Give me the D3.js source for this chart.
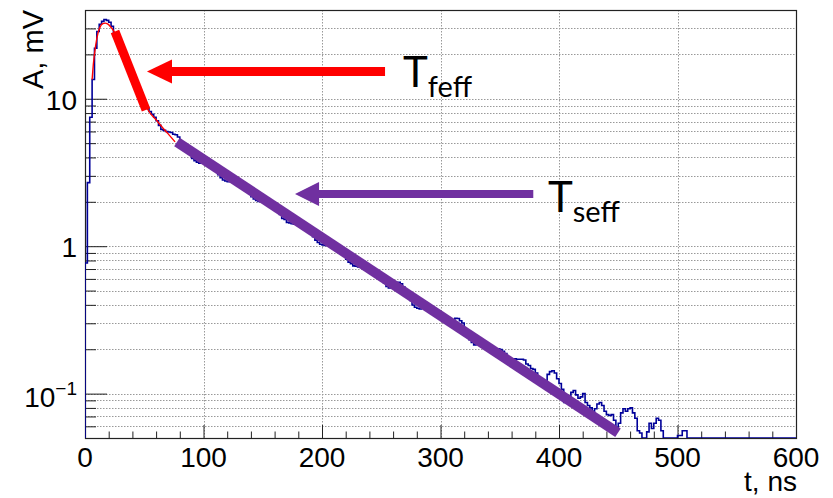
<!DOCTYPE html>
<html><head><meta charset="utf-8">
<script src="https://cdn.jsdelivr.net/npm/d3@7"></script>
<style>body{margin:0;background:#fff} svg{display:block}</style>
</head><body>
<svg id="c" width="833" height="498"></svg>
<script>
// ---------------- data ----------------
const binWidth = 2; // ns per histogram bin, bins start at t = 0
const amplitude = [
  0.77, 2.7, 7.5, 13.5, 22, 28.6, 32, 33.5, 34.5, 34,
  33, 31, 27.5, 25.1, 22.9, 20.9, 19.1, 17.4, 15.8, 14.5,
  13.2, 12.0, 11.1, 10.2, 9.5, 9.0, 8.6, 8.2, 7.85, 7.5,
  7.1, 6.6, 6.2, 6.1, 6.0, 5.95, 5.9, 5.75, 5.7, 5.5,
  5.12, 4.76, 4.66, 4.44, 4.24, 3.94, 3.80, 3.72, 3.66, 3.75,
  3.83, 3.83, 3.65, 3.56, 3.40, 3.24, 3.05, 2.91, 2.81, 2.77,
  2.74, 2.86, 2.92, 2.79, 2.72, 2.59, 2.59, 2.47, 2.36, 2.30,
  2.17, 2.09, 2.04, 2.01, 2.08, 2.08, 2.08, 1.98, 1.93, 1.85,
  1.84, 1.72, 1.64, 1.54, 1.52, 1.45, 1.44, 1.42, 1.41, 1.45,
  1.48, 1.41, 1.37, 1.31, 1.31, 1.25, 1.16, 1.10, 1.06, 1.03,
  1.02, 1.01, 1.03, 1.05, 1.05, 1.00, 0.977, 0.931, 0.931, 0.867,
  0.817, 0.780, 0.760, 0.735, 0.733, 0.723, 0.748, 0.746, 0.746, 0.711,
  0.678, 0.678, 0.661, 0.631, 0.615, 0.586, 0.560, 0.533, 0.521, 0.532,
  0.556, 0.569, 0.568, 0.555, 0.528, 0.481, 0.459, 0.428, 0.399, 0.385,
  0.379, 0.375, 0.387, 0.396, 0.386, 0.386, 0.368, 0.351, 0.351, 0.334,
  0.334, 0.326, 0.325, 0.310, 0.310, 0.316, 0.324, 0.323, 0.312, 0.301,
  0.274, 0.255, 0.232, 0.222, 0.214, 0.216, 0.226, 0.220, 0.220, 0.210,
  0.205, 0.195, 0.195, 0.200, 0.201, 0.199, 0.194, 0.187, 0.177, 0.164,
  0.168, 0.172, 0.171, 0.171, 0.171, 0.169, 0.159, 0.155, 0.148, 0.146,
  0.138, 0.129, 0.120, 0.117, 0.120, 0.135, 0.141, 0.143, 0.138, 0.126,
  0.117, 0.107, 0.087, 0.090, 0.095, 0.102, 0.105, 0.098, 0.093, 0.095,
  0.100, 0.087, 0.083, 0.080, 0.076, 0.079, 0.085, 0.087, 0.083, 0.076,
  0.072, 0.071, 0.072, 0.066, 0.059, 0.063, 0.074, 0.079, 0.076, 0.079,
  0.080, 0.074, 0.068, 0.056, 0.054, 0, 0, 0.055, 0.063, 0.058,
  0.063, 0.068, 0.066, 0.056, 0, 0, 0, 0, 0, 0,
  0.052, 0.052, 0.056, 0.056, 0, 0, 0, 0, 0, 0,
  0, 0, 0, 0, 0, 0, 0, 0, 0, 0,
  0, 0, 0, 0, 0, 0, 0, 0, 0, 0,
  0, 0, 0, 0, 0, 0, 0, 0, 0, 0,
  0, 0, 0, 0, 0, 0, 0, 0, 0, 0
];
// thin red fit function
const fitT = [6, 7, 9, 11, 13, 15, 17, 19, 21, 23, 25, 30, 35, 40, 45, 50, 55, 60, 65, 70, 76];
const fitA = [13.5, 17, 23, 28, 31, 32.3, 32.6, 32.2, 31.2, 29.8, 28.2, 22.8, 18, 14.2, 11.3, 9.3, 8.0, 7.2, 6.45, 5.8, 5.1];
// thick fitted slopes
const fastFitT = [25.3, 51.5], fastFitA = [28.6, 8.4];
const slowFitT = [77.6, 449.8], slowFitA = [5.09, 0.0543];
// annotation arrows (tail t, tip t, head base t, amplitude)
const arrowLabels = ["feff", "seff"];
const arrowTailT = [253.2, 378.3];
const arrowTipT = [52.3, 177.2];
const arrowBaseT = [73.4, 197.5];
const arrowA = [15.3, 2.26];
const labelT = [268.4, 390.7];
const labelA = [12.0, 1.71];
// axes
const xMajorTicks = [0, 100, 200, 300, 400, 500, 600];
const xMinorTicks = d3.range(0, 601, 20).filter(v => v % 100 !== 0);
const yLabelTicks = [0.1, 1, 10];
const xTitle = "t, ns", yTitle = "A, mV";

// ---------------- drawing ----------------
const svg = d3.select("#c");
const L = 85, R = 796, T = 10, B = 438;
const x = d3.scaleLinear().domain([0, 600]).range([L, R]);
const y = d3.scaleLog().domain([0.05, 40]).range([B, T]).clamp(true);
const yv = v => y(v > 0 ? v : 0.05);
const red = "#ff0000", purple = "#7030a0", blue = "#000099";
const rootFont = "'Liberation Sans', Arial, Helvetica, sans-serif";
const annFont = "Lato, 'Open Sans', sans-serif";

svg.append("defs").append("clipPath").attr("id", "clip")
  .append("rect").attr("x", L).attr("y", T).attr("width", R - L).attr("height", B - T);

// grid
const yGrid = y.ticks().filter(v => v > 0.05 && v < 40);
svg.append("g").selectAll("line").data(yGrid).join("line")
  .attr("x1", L).attr("x2", R).attr("y1", d => Math.round(y(d)) + 0.5).attr("y2", d => Math.round(y(d)) + 0.5)
  .attr("stroke", "#999").attr("stroke-width", 1).attr("stroke-dasharray", "1.5,1.5");
svg.append("g").selectAll("line").data(xMajorTicks.slice(1, -1)).join("line")
  .attr("y1", T).attr("y2", B).attr("x1", d => Math.round(x(d)) + 0.5).attr("x2", d => Math.round(x(d)) + 0.5)
  .attr("stroke", "#999").attr("stroke-width", 1).attr("stroke-dasharray", "1.5,1.5");

// axes ticks
const tickStyle = g => { g.select(".domain").remove(); g.selectAll("line").attr("stroke", "#222"); g.selectAll("text").remove(); };
svg.append("g").attr("transform", `translate(0,${B})`)
  .call(d3.axisTop(x).tickValues(xMajorTicks).tickSize(13).tickSizeOuter(0)).call(tickStyle);
svg.append("g").attr("transform", `translate(0,${B})`)
  .call(d3.axisTop(x).tickValues(xMinorTicks).tickSize(6.5).tickSizeOuter(0)).call(tickStyle);
svg.append("g").attr("transform", `translate(${L},0)`)
  .call(d3.axisRight(y).tickValues(yLabelTicks).tickSize(22).tickSizeOuter(0)).call(tickStyle);
svg.append("g").attr("transform", `translate(${L},0)`)
  .call(d3.axisRight(y).tickValues(yGrid.filter(v => !yLabelTicks.includes(v)).concat([40])).tickSize(11).tickSizeOuter(0)).call(tickStyle);

// frame
svg.append("rect").attr("x", L + 0.5).attr("y", T + 0.5).attr("width", R - L).attr("height", B - T)
  .attr("fill", "none").attr("stroke", "#222").attr("stroke-width", 1.2);

// tick labels
svg.append("g").selectAll("text").data(xMajorTicks).join("text")
  .attr("x", d => x(d)).attr("y", B + 29).attr("text-anchor", "middle")
  .attr("font-family", rootFont).attr("font-size", 28).text(d => d);
const yl = svg.append("g").selectAll("text").data(yLabelTicks).join("text")
  .attr("x", L - 8).attr("y", d => y(d) + (d < 1 ? 13 : 11)).attr("text-anchor", "end")
  .attr("font-family", rootFont).attr("font-size", 28);
yl.each(function(d) {
  const t = d3.select(this);
  if (d >= 1) t.text(d);
  else {
    t.append("tspan").text("10");
    t.append("tspan").attr("font-size", 19).attr("dy", -12).text("\u22121");
  }
});
svg.append("text").attr("x", R + 1).attr("y", 491).attr("text-anchor", "end")
  .attr("font-family", rootFont).attr("font-size", 28).text(xTitle);
svg.append("text").attr("transform", `translate(43,${T}) rotate(-90)`).attr("text-anchor", "end")
  .attr("font-family", rootFont).attr("font-size", 29).text(yTitle);

// histogram
const pts = [[0, 0]];
amplitude.forEach((v, i) => { pts.push([i * binWidth, v]); pts.push([(i + 1) * binWidth, v]); });
const plot = svg.append("g").attr("clip-path", "url(#clip)");
plot.append("path").datum(pts)
  .attr("d", d3.line().x(d => x(d[0])).y(d => yv(d[1])))
  .attr("fill", "none").attr("stroke", blue).attr("stroke-width", 1.6).attr("stroke-linejoin", "miter");

// thin fit
plot.append("path").datum(fitT.map((t, i) => [t, fitA[i]]))
  .attr("d", d3.line().x(d => x(d[0])).y(d => y(d[1])).curve(d3.curveMonotoneX))
  .attr("fill", "none").attr("stroke", red).attr("stroke-width", 1.4);

// thick fits
plot.append("line").attr("x1", x(fastFitT[0])).attr("y1", y(fastFitA[0])).attr("x2", x(fastFitT[1])).attr("y2", y(fastFitA[1]))
  .attr("stroke", red).attr("stroke-width", 9);
plot.append("line").attr("x1", x(slowFitT[0])).attr("y1", y(slowFitA[0])).attr("x2", x(slowFitT[1])).attr("y2", y(slowFitA[1]))
  .attr("stroke", purple).attr("stroke-width", 10);

// arrows
const arrowColor = [red, purple], shaftW = [9, 8];
arrowLabels.forEach((lab, i) => {
  const yy = y(arrowA[i]);
  svg.append("line").attr("x1", x(arrowTailT[i])).attr("x2", x(arrowBaseT[i]) - 1).attr("y1", yy).attr("y2", yy)
    .attr("stroke", arrowColor[i]).attr("stroke-width", shaftW[i]);
  svg.append("path")
    .attr("d", `M${x(arrowTipT[i])},${yy} L${x(arrowBaseT[i])},${yy - 12} L${x(arrowBaseT[i])},${yy + 12} Z`)
    .attr("fill", arrowColor[i]);
  const tx = svg.append("text").attr("x", x(labelT[i])).attr("y", y(labelA[i]))
    .attr("font-family", annFont).attr("font-size", 42).attr("fill", "#000");
  tx.append("tspan").text("T");
  tx.append("tspan").attr("font-size", 29).attr("dy", 10).text(lab);
});
</script>
</body></html>
